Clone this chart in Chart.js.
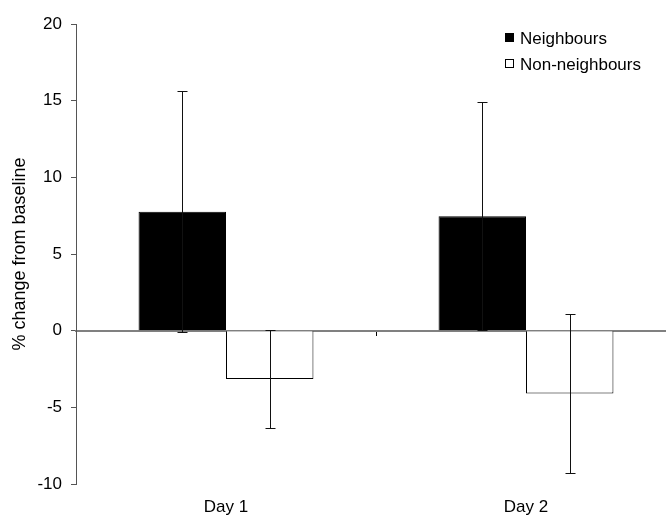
<!DOCTYPE html>
<html>
<head>
<meta charset="utf-8">
<script src="https://cdn.jsdelivr.net/npm/chart.js@4.4.0/dist/chart.umd.min.js"></script>
<style>
  html, body { margin: 0; padding: 0; background: #fff; overflow: hidden; }
  #wrap { width: 666px; height: 517px; overflow: hidden; }
</style>
</head>
<body>
<div id="wrap"><canvas id="chart" width="676" height="517"></canvas></div>
<script>
// Values
const categories = ['Day 1', 'Day 2'];
const neighbours = [7.76, 7.46];
const neighboursErr = [7.85, 7.44];
const nonNeighbours = [-3.15, -4.1];
const nonNeighboursErr = [3.21, 5.18];
const yMin = -10, yMax = 20, yStep = 5;

const FONT = { family: '"Liberation Sans", Arial, sans-serif', size: 17 };
const TITLE_FONT = { family: '"Liberation Sans", Arial, sans-serif', size: 18 };

// Error bars drawn from the dataset errors through the y scale
const errorBars = {
  id: 'errorBars',
  afterDatasetsDraw(chart) {
    const ctx = chart.ctx;
    const y = chart.scales.y;
    const errs = [neighboursErr, nonNeighboursErr];
    ctx.save();
    ctx.strokeStyle = '#111';
    ctx.lineWidth = 1;
    chart.data.datasets.forEach((ds, di) => {
      const meta = chart.getDatasetMeta(di);
      meta.data.forEach((bar, i) => {
        const v = ds.data[i], e = errs[di][i];
        const x = Math.round(bar.x) + 0.5;
        const yTop = Math.round(y.getPixelForValue(v + e)) + 0.5;
        const yBot = Math.round(y.getPixelForValue(v - e)) + 0.5;
        ctx.beginPath();
        ctx.moveTo(x, yTop); ctx.lineTo(x, yBot);
        ctx.moveTo(x - 5, yTop); ctx.lineTo(x + 5, yTop);
        ctx.moveTo(x - 5, yBot); ctx.lineTo(x + 5, yBot);
        ctx.stroke();
      });
    });
    ctx.restore();
  }
};

// Legend inside the plot, top right
const insideLegend = {
  id: 'insideLegend',
  afterDraw(chart) {
    const ctx = chart.ctx;
    ctx.save();
    ctx.font = FONT.size + 'px ' + FONT.family;
    ctx.textBaseline = 'middle';
    ctx.textAlign = 'left';
    chart.data.datasets.forEach((ds, i) => {
      const cy = 38 + i * 26;
      ctx.fillStyle = ds.backgroundColor;
      ctx.fillRect(505, cy - 5, 9, 9);
      ctx.strokeStyle = '#000';
      ctx.lineWidth = 1;
      ctx.strokeRect(505.5, cy - 4.5, 8, 8);
      ctx.fillStyle = '#000';
      ctx.fillText(ds.label, 520, cy + 1);
    });
    ctx.restore();
  }
};

const ctx = document.getElementById('chart').getContext('2d');
const chart = new Chart(ctx, {
  type: 'bar',
  data: {
    labels: categories,
    datasets: [
      {
        label: 'Neighbours',
        data: neighbours,
        backgroundColor: '#000',
        borderColor: '#000',
        borderWidth: 1
      },
      {
        label: 'Non-neighbours',
        data: nonNeighbours,
        backgroundColor: '#fff',
        borderColor: '#000',
        borderWidth: 1
      }
    ]
  },
  options: {
    responsive: false,
    animation: false,
    devicePixelRatio: 1,
    categoryPercentage: 0.583,
    barPercentage: 1,
    layout: { padding: { top: 24, right: 0, bottom: 0, left: 0 } },
    plugins: {
      legend: { display: false },
      tooltip: { enabled: false }
    },
    scales: {
      x: {
        type: 'category',
        position: 'bottom',
        offset: true,
        grid: { display: false, drawTicks: false },
        border: { display: false },
        ticks: { color: '#000', font: FONT, padding: 13 },
        afterFit: s => { s.height = 33; }
      },
      x2: {
        type: 'category',
        labels: categories,
        position: { y: 0 },
        offset: true,
        grid: { display: true, drawOnChartArea: false, offset: true, tickLength: 4, color: '#000' },
        border: { display: true, color: '#808080', width: 2 },
        ticks: { display: false }
      },
      y: {
        min: yMin,
        max: yMax,
        ticks: { stepSize: yStep, color: '#000', font: FONT, padding: 9 },
        grid: { drawOnChartArea: false, tickLength: 5, color: '#555' },
        border: { color: '#555', width: 1 },
        title: {
          display: true,
          text: '% change from baseline',
          color: '#000',
          font: TITLE_FONT,
          padding: { top: 9, bottom: 0 }
        },
        afterFit: s => { s.width = 76; }
      }
    }
  },
  plugins: [errorBars, insideLegend]
});
</script>
</body>
</html>
